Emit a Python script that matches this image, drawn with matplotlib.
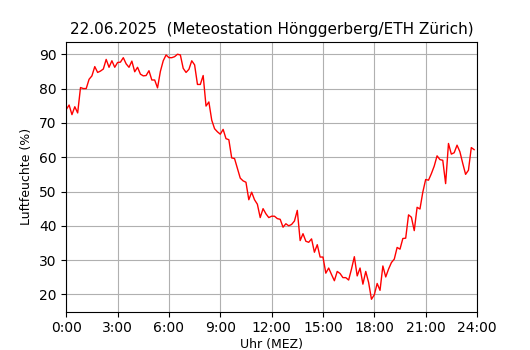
import numpy as np
import matplotlib
matplotlib.use("Agg")
import matplotlib.pyplot as plt

# relative humidity, 10-minute values from 0:00 to 23:50
humidity = [
    73.9, 75.2, 72.4, 74.7, 72.9, 80.3, 80.0, 80.0, 82.7, 83.7, 86.4, 84.7,
    85.1, 85.7, 88.5, 86.2, 88.1, 86.2, 87.6, 87.7, 89.0, 87.2, 86.2, 88.0,
    84.9, 86.2, 84.2, 83.7, 83.8, 85.2, 82.5, 82.5, 80.2, 85.0, 88.1, 89.8,
    89.0, 89.0, 89.3, 90.0, 89.8, 85.9, 84.7, 85.6, 88.1, 86.9, 81.2, 81.2,
    83.8, 74.9, 76.1, 70.8, 68.3, 67.4, 66.7, 68.1, 65.4, 65.1, 59.8, 59.6,
    56.7, 53.9, 53.1, 52.7, 47.6, 49.8, 47.6, 46.3, 42.4, 45.0, 43.5, 42.4,
    42.8, 42.8, 42.1, 41.9, 39.6, 40.6, 40.0, 40.4, 41.4, 44.5, 35.7, 37.7,
    35.5, 35.2, 36.2, 32.3, 34.5, 30.9, 30.9, 26.2, 27.7, 25.8, 24.0, 26.7,
    26.1, 24.9, 24.9, 24.2, 27.4, 31.0, 25.4, 27.7, 23.0, 26.7, 23.5, 18.6,
    19.9, 23.2, 21.2, 28.3, 25.1, 27.4, 29.3, 30.3, 33.7, 33.2, 36.3, 36.4,
    43.2, 42.5, 38.6, 45.4, 44.9, 49.8, 53.5, 53.3, 55.2, 57.4, 60.4, 59.3,
    59.1, 52.3, 64.0, 60.9, 61.3, 63.5, 61.6, 58.2, 55.0, 56.2, 62.8, 62.2,
]
hours = np.arange(len(humidity)) / 6.0

tick_hours = [0, 3, 6, 9, 12, 15, 18, 21, 24]
tick_labels = ["0:00", "3:00", "6:00", "9:00", "12:00", "15:00", "18:00", "21:00", "24:00"]

fig, ax = plt.subplots(figsize=(5.3, 3.5), dpi=100)
ax.plot(hours, humidity, color="red", linewidth=1)
ax.set_xlim(0, 24)
ax.set_xticks(tick_hours)
ax.set_xticklabels(tick_labels)
ax.grid(True)
ax.set_title("22.06.2025  (Meteostation Hönggerberg/ETH Zürich)", fontsize=11)
ax.set_xlabel("Uhr (MEZ)", fontsize=9, labelpad=2)
ax.set_ylabel("Luftfeuchte (%)", fontsize=9)

fig.savefig("out.png")
